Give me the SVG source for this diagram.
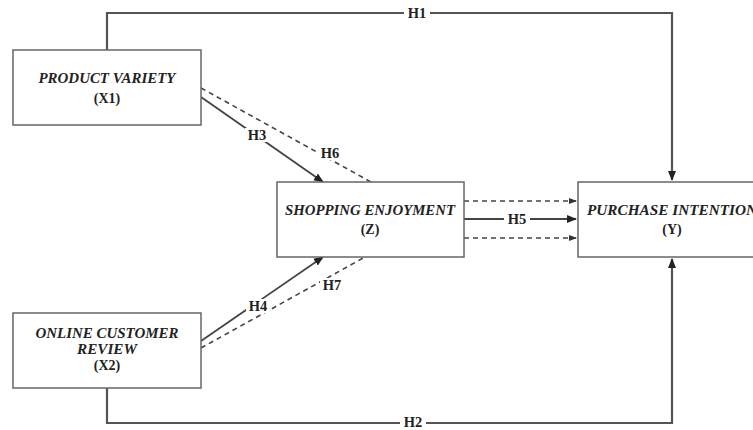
<svg xmlns="http://www.w3.org/2000/svg" width="753" height="430" viewBox="0 0 753 430">
<style>
.box{fill:#fff;stroke:#666;stroke-width:1.5}
.t{font-family:"Liberation Serif","Times New Roman",serif;font-weight:bold;fill:#222;text-anchor:middle;font-size:14px}
.i{font-style:italic}
.ln{fill:none;stroke:#444;stroke-width:1.8}
.main{fill:none;stroke:#555;stroke-width:2.2}
.dash{fill:none;stroke:#444;stroke-width:1.6;stroke-dasharray:5,4}
.lbl{font-family:"Liberation Serif","Times New Roman",serif;font-weight:bold;fill:#222;text-anchor:middle;font-size:14.5px}
</style>
<defs>
<marker id="ah" markerWidth="10" markerHeight="10" refX="9" refY="5" orient="auto" markerUnits="userSpaceOnUse"><path d="M0,1 L10,5 L0,9 Z" fill="#222"/></marker>
<marker id="ahs" markerWidth="8" markerHeight="8" refX="7" refY="4" orient="auto" markerUnits="userSpaceOnUse"><path d="M0,1 L8,4 L0,7 Z" fill="#333"/></marker>
</defs>
<rect width="753" height="430" fill="#fff"/>
<g id="connectors">
<path class="main" d="M107,50 V13 H672 V180" marker-end="url(#ah)"/>
<path class="main" d="M107,388 V423 H672 V259" marker-end="url(#ah)"/>
<line class="ln" x1="201" y1="97" x2="323" y2="182" marker-end="url(#ah)"/>
<line class="dash" x1="201" y1="88" x2="371" y2="182"/>
<line class="ln" x1="201" y1="341" x2="323" y2="257" marker-end="url(#ah)"/>
<line class="dash" x1="201" y1="348" x2="365" y2="257"/>
<line class="dash" x1="464" y1="201" x2="576" y2="201" marker-end="url(#ahs)"/>
<line class="ln" x1="464" y1="219" x2="576" y2="219" marker-end="url(#ah)"/>
<line class="dash" x1="464" y1="238" x2="576" y2="238" marker-end="url(#ahs)"/>
<rect x="404" y="6" width="26" height="14" fill="#fff"/>
<text class="lbl" x="417" y="18">H1</text>
<rect x="400" y="416" width="26" height="13" fill="#fff"/>
<text class="lbl" x="413" y="427">H2</text>
<rect x="245" y="128" width="25" height="14" fill="#fff"/>
<text class="lbl" x="257" y="140">H3</text>
<rect x="318" y="146" width="25" height="14" fill="#fff"/>
<text class="lbl" x="330" y="158">H6</text>
<rect x="246" y="299" width="25" height="14" fill="#fff"/>
<text class="lbl" x="258" y="311">H4</text>
<rect x="320" y="278" width="25" height="14" fill="#fff"/>
<text class="lbl" x="332" y="290">H7</text>
<rect x="504" y="212" width="26" height="14" fill="#fff"/>
<text class="lbl" x="517" y="224">H5</text>
</g>
<g id="x1">
<rect class="box" x="13" y="50" width="188" height="75"/>
<text class="t i" x="107" y="83" textLength="137" lengthAdjust="spacingAndGlyphs">PRODUCT VARIETY</text>
<text class="t" x="107" y="103">(X1)</text>
</g>
<g id="x2">
<rect class="box" x="13" y="313" width="188" height="75"/>
<text class="t i" x="107" y="338" textLength="143" lengthAdjust="spacingAndGlyphs">ONLINE CUSTOMER</text>
<text class="t i" x="107" y="354" textLength="60" lengthAdjust="spacingAndGlyphs">REVIEW</text>
<text class="t" x="107" y="370">(X2)</text>
</g>
<g id="z">
<rect class="box" x="277" y="182" width="187" height="75"/>
<text class="t i" x="370" y="215" textLength="170" lengthAdjust="spacingAndGlyphs">SHOPPING ENJOYMENT</text>
<text class="t" x="370" y="234">(Z)</text>
</g>
<g id="y">
<rect class="box" x="578" y="182" width="190" height="75"/>
<text class="t i" x="672" y="215" textLength="170" lengthAdjust="spacingAndGlyphs">PURCHASE INTENTION</text>
<text class="t" x="672" y="234">(Y)</text>
</g>
</svg>
